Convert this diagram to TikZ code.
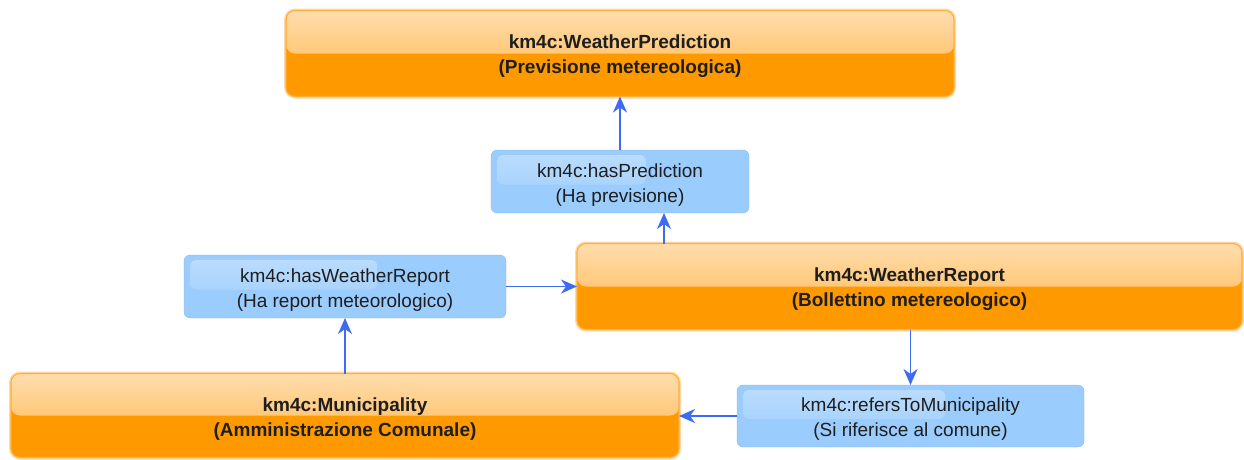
\documentclass[tikz,border=0pt]{standalone}
\usepackage{fontspec}
\setmainfont{Liberation Sans}
\usetikzlibrary{arrows.meta,calc}
\definecolor{orbody}{HTML}{FF9900}
\definecolor{ortop}{HTML}{FFDDAD}
\definecolor{ormid}{HTML}{FFB446}
\definecolor{orglow}{HTML}{FFD9AA}
\definecolor{orline}{HTML}{FFAE3A}
\definecolor{blbody}{HTML}{9ACCFD}
\definecolor{arrcol}{HTML}{3D6BF2}
\definecolor{txt}{HTML}{1E1E1E}
\newcommand\tstrut{\rule{0pt}{20pt}}
\tikzset{
  classbox/.style={rectangle, rounded corners=9pt, inner sep=0pt, outer sep=0pt,
    fill=orbody, draw=orline, line width=1.1pt,
    preaction={draw=orglow, line width=4pt},
    text=txt, align=center, font=\fontsize{19}{25}\selectfont\bfseries,
    path picture={
      \fill[top color=ortop, bottom color=ormid]
        (path picture bounding box.north west) rectangle (path picture bounding box.east);
    }},
  propbox/.style={rectangle, rounded corners=6pt, inner sep=0pt, outer sep=0pt,
    fill=blbody, draw=blbody!90!black, line width=0.3pt,
    text=txt, align=center, font=\fontsize{19}{25}\selectfont,
    path picture={
      \fill[top color=white, bottom color=blbody, opacity=0.35, rounded corners=6pt]
        ($(path picture bounding box.north west)+(6pt,-5pt)$) rectangle
        ($(path picture bounding box.west)!0.6!(path picture bounding box.east)+(0,-3pt)$);
    }},
  arr/.style={draw=arrcol, line width=1.4pt,
    -{Stealth[length=16pt,width=14pt,inset=5pt]}}
}
\begin{document}
\begin{tikzpicture}[x=1pt,y=-1pt]
\useasboundingbox (0,0) rectangle (1244,459);
\node[classbox, minimum width=668pt, minimum height=86pt] (pred) at (620,53.5)
  {\tstrut km4c:WeatherPrediction\\(Previsione metereologica)};
\node[classbox, minimum width=665pt, minimum height=86pt] (report) at (909.5,286.5)
  {\tstrut km4c:WeatherReport\\(Bollettino metereologico)};
\node[classbox, minimum width=668pt, minimum height=84pt] (muni) at (345,415.5)
  {\tstrut km4c:Municipality\\(Amministrazione Comunale)};
\node[propbox, minimum width=258pt, minimum height=63pt] (haspred) at (620,181.5)
  {\tstrut km4c:hasPrediction\\(Ha previsione)};
\node[propbox, minimum width=322pt, minimum height=63pt] (haswr) at (345,286.5)
  {\tstrut km4c:hasWeatherReport\\(Ha report meteorologico)};
\node[propbox, minimum width=347pt, minimum height=62pt] (refers) at (910.5,416)
  {\tstrut km4c:refersToMunicipality\\(Si riferisce al comune)};
\coordinate (cx) at (664,0);
\draw[arr] (haspred.north) -- (pred.south);
\draw[arr] (cx |- report.north) -- (cx |- haspred.south);
\draw[arr] (haswr.east) -- (report.west);
\draw[arr] (muni.north) -- (haswr.south);
\draw[arr] (refers.north |- report.south) -- (refers.north);
\draw[arr] (refers.west) -- (muni.east |- refers.west);
\end{tikzpicture}
\end{document}
